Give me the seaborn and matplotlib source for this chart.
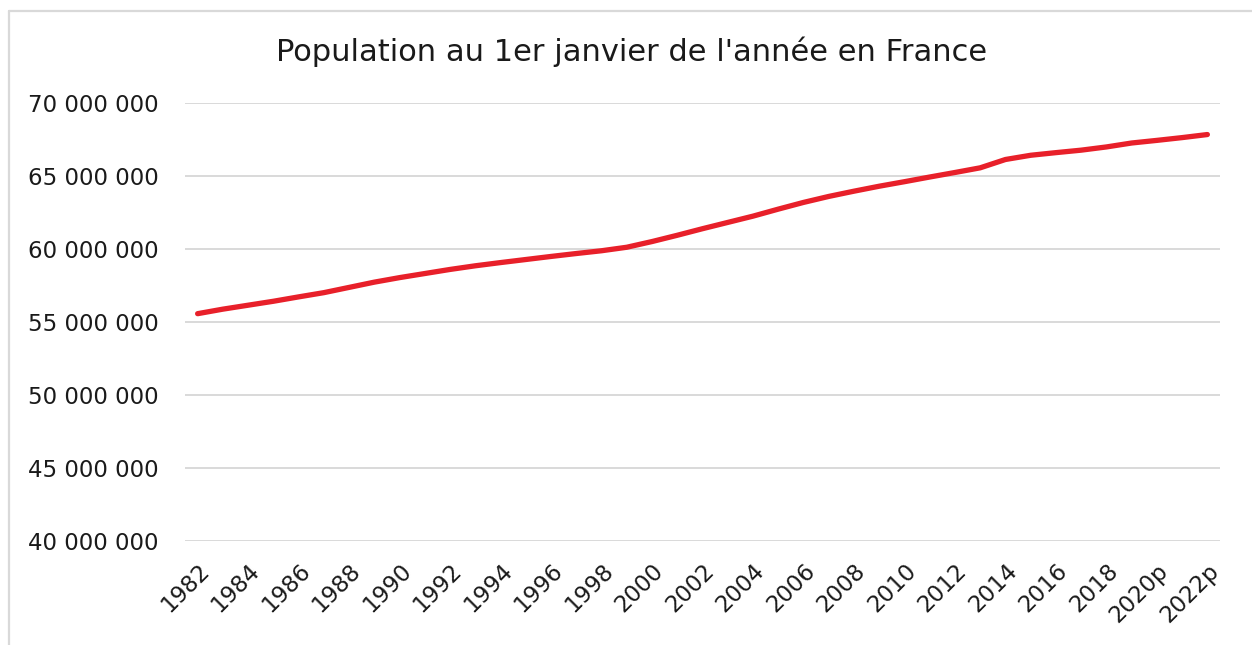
import matplotlib
matplotlib.use("Agg")
import matplotlib.pyplot as plt
from matplotlib.lines import Line2D
import seaborn as sns
import pandas as pd

years = ["1982", "1983", "1984", "1985", "1986", "1987", "1988", "1989", "1990", "1991",
         "1992", "1993", "1994", "1995", "1996", "1997", "1998", "1999", "2000", "2001",
         "2002", "2003", "2004", "2005", "2006", "2007", "2008", "2009", "2010", "2011",
         "2012", "2013", "2014", "2015", "2016", "2017", "2018", "2019", "2020p", "2021p",
         "2022p"]
population = [55570000, 55880000, 56150000, 56420000, 56720000, 57010000, 57370000, 57730000,
              58040000, 58320000, 58600000, 58850000, 59070000, 59280000, 59490000, 59690000,
              59880000, 60120000, 60510000, 60940000, 61390000, 61820000, 62250000, 62730000,
              63190000, 63600000, 63960000, 64300000, 64610000, 64930000, 65240000, 65560000,
              66130000, 66420000, 66600000, 66770000, 66990000, 67260000, 67440000, 67630000,
              67840000]
yticks = [40000000, 45000000, 50000000, 55000000, 60000000, 65000000, 70000000]
title = "Population au 1er janvier de l'année en France"

sns.set_theme(style="white")
plt.rcParams["font.family"] = ["DejaVu Sans"]

df = pd.DataFrame({"annee": years, "pop": population, "idx": range(len(years))})

fig = plt.figure(figsize=(12.52, 6.45), dpi=100)
ax = fig.add_axes([185 / 1252, 1 - 541 / 645, (1220 - 185) / 1252, (541 - 103) / 645])

sns.lineplot(data=df, x="idx", y="pop", ax=ax, color="#E8202A", linewidth=3.8,
             solid_capstyle="round", solid_joinstyle="round")

ax.set_xlim(-0.5, len(years) - 0.5)
ax.set_ylim(yticks[0], yticks[-1])
ax.set_yticks(yticks)
ax.set_yticklabels([f"{v:,}".replace(",", " ") for v in yticks], fontsize=16.5, color="#1a1a1a")
tick_pos = list(range(0, len(years), 2))
ax.set_xticks(tick_pos)
ax.set_xticklabels([years[i] for i in tick_pos], rotation=45, ha="right", va="top",
                   rotation_mode="anchor", fontsize=16.5, color="#1a1a1a")
ax.tick_params(axis="both", length=0)
ax.tick_params(axis="y", pad=19)
ax.tick_params(axis="x", pad=13)
ax.grid(axis="y", color="#D9D9D9", linewidth=1.4)
ax.set_axisbelow(True)
for s in ax.spines.values():
    s.set_visible(False)
ax.set_xlabel("")
ax.set_ylabel("")

fig.text(632 / 1252, 1 - 52 / 645, title, ha="center", va="center", fontsize=22, color="#1a1a1a")

# chart border (light gray)
fig.add_artist(Line2D([8.5 / 1252, 1.0], [1 - 10.5 / 645, 1 - 10.5 / 645], color="#D9D9D9",
                      linewidth=1.6, transform=fig.transFigure))
fig.add_artist(Line2D([8.5 / 1252, 8.5 / 1252], [1 - 10.5 / 645, 0.0], color="#D9D9D9",
                      linewidth=1.6, transform=fig.transFigure))

fig.savefig("out.png", dpi=100, facecolor="white")
